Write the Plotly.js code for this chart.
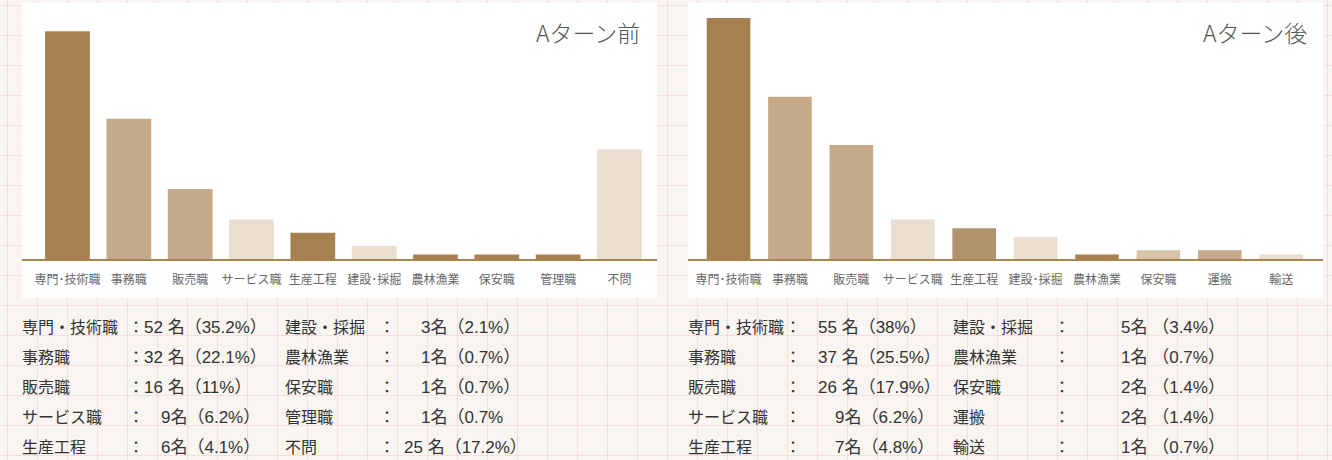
<!DOCTYPE html>
<html><head><meta charset="utf-8">
<script src="https://cdn.plot.ly/plotly-3.0.1.min.js"></script>
<style>
html,body{margin:0;padding:0;width:1332px;height:460px;overflow:hidden;}
body{background-color:#f9f6f2;
background-image:
 linear-gradient(to right, rgba(238,160,170,0.24) 1px, transparent 1px),
 linear-gradient(to bottom, rgba(238,160,170,0.24) 1px, transparent 1px),
 linear-gradient(to right, rgba(238,180,185,0.05) 1px, transparent 1px),
 linear-gradient(to bottom, rgba(238,180,185,0.05) 1px, transparent 1px);
background-size:30px 30px,30px 30px,10px 10px,10px 10px;
background-position:7px 5px,7px 5px,7px 5px,7px 5px;}
#chart{position:absolute;left:0;top:0;width:1332px;height:460px;}
.cell{position:absolute;font-family:"Noto Sans CJK JP","Noto Sans",sans-serif;font-size:16px;color:#333;line-height:30px;white-space:pre;}
.val{font-family:"Liberation Sans","Noto Sans CJK JP",sans-serif;font-size:17px;letter-spacing:0px;}
</style></head>
<body>
<div id="chart"></div>
<div id="tables"></div>
<script>
// ---- data ----
const catsBefore = ["専門･技術職","事務職","販売職","サービス職","生産工程","建設･採掘","農林漁業","保安職","管理職","不問"];
const countsBefore = [52,32,16,9,6,3,1,1,1,25];
const pctBefore = ["（35.2%）","（22.1%）","（11%）","（6.2%）","（4.1%）","（2.1%）","（0.7%）","（0.7%）","（0.7%","（17.2%）"];
const colorsBefore = ["#a6814f","#c4aa89","#c4aa89","#e9ded0","#a6814f","#e9ded0","#a6814f","#a6814f","#a6814f","#e9ded0"];

const catsAfter = ["専門･技術職","事務職","販売職","サービス職","生産工程","建設･採掘","農林漁業","保安職","運搬","輸送"];
const countsAfter = [55,37,26,9,7,5,1,2,2,1];
const pctAfter = ["（38%）","（25.5%）","（17.9%）","（6.2%）","（4.8%）","（3.4%）","（0.7%）","（1.4%）","（1.4%）","（0.7%）"];
const colorsAfter = ["#a6814f","#c4aa89","#c4aa89","#e9ded0","#b0926c","#e9ded0","#a6814f","#d6c3a9","#c4aa89","#e9ded0"];

const titleBefore = "Aターン前";
const titleAfter = "Aターン後";

// ---- chart ----
const W = 1332, H = 460;
const px = v => v / W;
const py = v => 1 - v / H;

const traces = [
  {type:"bar", x:catsBefore, y:countsBefore, marker:{color:colorsBefore, line:{width:0}}, width:0.73, xaxis:"x", yaxis:"y", hoverinfo:"x+y"},
  {type:"bar", x:catsAfter, y:countsAfter, marker:{color:colorsAfter, line:{width:0}}, width:0.71, xaxis:"x2", yaxis:"y2", hoverinfo:"x+y"}
];

const xBase = {type:"category", showgrid:false, zeroline:false, showline:true, linecolor:"#a8864f", linewidth:2,
  ticks:"", tickangle:0, ticklabelstandoff:9, tickfont:{family:"Noto Sans CJK JP, sans-serif", size:12, color:"#666"}, fixedrange:true};
const yBase = {range:[0,55], showgrid:false, zeroline:false, showline:false, showticklabels:false, ticks:"", fixedrange:true};

const layout = {
  width:W, height:H, margin:{l:0,r:0,t:0,b:0},
  paper_bgcolor:"rgba(0,0,0,0)", plot_bgcolor:"rgba(0,0,0,0)",
  showlegend:false, bargap:0.27,
  xaxis:Object.assign({}, xBase, {domain:[px(22), px(657)], range:[-0.742, 9.612], anchor:"y"}),
  yaxis:Object.assign({}, yBase, {domain:[py(259), py(18)], anchor:"x"}),
  xaxis2:Object.assign({}, xBase, {domain:[px(688), px(1323)], range:[-0.66, 9.68], anchor:"y2"}),
  yaxis2:Object.assign({}, yBase, {domain:[py(259), py(18)], anchor:"x2"}),
  shapes:[
    {type:"rect", xref:"paper", yref:"paper", x0:px(22), x1:px(657), y0:py(298), y1:py(3), fillcolor:"#ffffff", line:{width:0}, layer:"below"},
    {type:"rect", xref:"paper", yref:"paper", x0:px(688), x1:px(1323), y0:py(298), y1:py(3), fillcolor:"#ffffff", line:{width:0}, layer:"below"}
  ],
  annotations:[
    {text:titleBefore, xref:"paper", yref:"paper", x:px(642), y:py(32), xanchor:"right", yanchor:"middle", showarrow:false,
     font:{family:"Noto Sans CJK JP, sans-serif", size:23, color:"#555", weight:300}},
    {text:titleAfter, xref:"paper", yref:"paper", x:px(1309), y:py(32), xanchor:"right", yanchor:"middle", showarrow:false,
     font:{family:"Noto Sans CJK JP, sans-serif", size:23, color:"#555", weight:300}}
  ]
};

Plotly.newPlot("chart", traces, layout, {displayModeBar:false, staticPlot:true});

// ---- text tables below the charts ----
const rowY = [326, 356, 386, 416, 446];
const tableSpecs = [
  {cats:catsBefore, counts:countsBefore, pcts:pctBefore, cols:[{name:22, colon:128, value:144, gap:""},{name:285, colon:379, value:404, gap:""}]},
  {cats:catsAfter, counts:countsAfter, pcts:pctAfter, cols:[{name:688, colon:785, value:818, gap:""},{name:953, colon:1054, value:1104, gap:" "}]}
];
const host = document.getElementById("tables");
function addCell(x, y, html){
  const d = document.createElement("div");
  d.className = "cell";
  d.style.left = x + "px";
  d.style.top = (y - 15) + "px";
  d.innerHTML = html;
  host.appendChild(d);
}
tableSpecs.forEach(t => {
  t.cats.forEach((c, i) => {
    const col = t.cols[Math.floor(i / 5)];
    const y = rowY[i % 5];
    const name = c.replace(/･/g, "・");
    const n = t.counts[i];
    const numStr = n >= 10 ? (n + " 名") : ("\u3000" + n + "名");
    addCell(col.name, y, name);
    addCell(col.colon, y, "：");
    addCell(col.value, y, '<span class="val">' + numStr + col.gap + t.pcts[i] + '</span>');
  });
});
</script>
</body></html>
